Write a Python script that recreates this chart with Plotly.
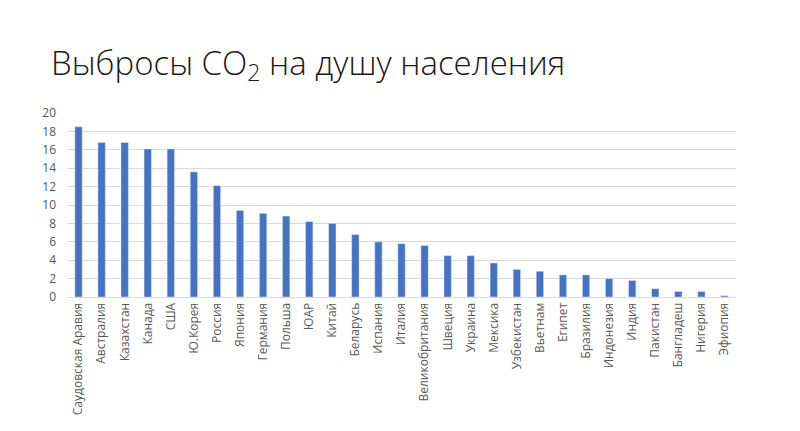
import plotly.graph_objects as go

countries = [
    "Саудовская Аравия", "Австралия", "Казахстан", "Канада", "США",
    "Ю.Корея", "Россия", "Япония", "Германия", "Польша", "ЮАР", "Китай",
    "Беларусь", "Испания", "Италия", "Великобритания", "Швеция", "Украина",
    "Мексика", "Узбекистан", "Вьетнам", "Египет", "Бразилия", "Индонезия",
    "Индия", "Пакистан", "Бангладеш", "Нигерия", "Эфиопия",
]
co2_per_capita = [
    18.5, 16.8, 16.8, 16.1, 16.1,
    13.6, 12.1, 9.4, 9.1, 8.8, 8.2, 8.0,
    6.8, 6.0, 5.8, 5.6, 4.5, 4.5,
    3.7, 3.0, 2.8, 2.4, 2.4, 2.0,
    1.8, 0.9, 0.6, 0.6, 0.15,
]
y_ticks = [0, 2, 4, 6, 8, 10, 12, 14, 16, 18, 20]

fig = go.Figure(go.Bar(
    x=countries, y=co2_per_capita,
    marker_color="#4472C4",
))

# страница отступает на 8px сверху и слева, поэтому поля чуть меньше
fig.update_layout(
    width=800, height=431,
    margin=dict(l=59, r=72, t=105, b=142),
    paper_bgcolor="white", plot_bgcolor="white",
    bargap=0.68,
    showlegend=False,
    title=dict(
        text="Выбросы CO<sub>2</sub> на душу населения",
        font=dict(family="Open Sans", size=33, color="#1a1a1a", weight=300),
        x=43 / 800, xanchor="left", xref="container",
        y=1 - 55 / 431, yanchor="middle", yref="container",
    ),
    font=dict(family="Open Sans", color="#595959", size=12),
)
fig.update_xaxes(
    tickangle=-90, showgrid=False, showline=True, automargin=False,
    linecolor="#d9d9d9", linewidth=1, ticks="",
    tickfont=dict(size=12, color="#595959"),
)
fig.update_yaxes(
    range=[0, 20], tickvals=y_ticks, showgrid=True, automargin=False,
    gridcolor="#d9d9d9", gridwidth=1, zeroline=False,
    ticks="", ticklabelstandoff=10, tickfont=dict(size=12, color="#595959"),
)

fig.write_html("out.html")
